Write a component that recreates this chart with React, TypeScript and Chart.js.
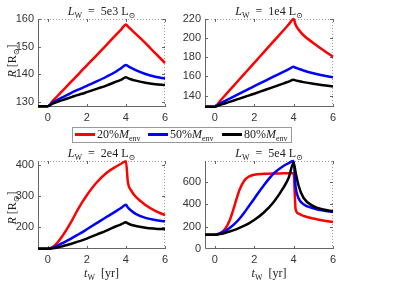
import React, { useEffect, useRef } from 'react';
import { Chart, registerables } from 'chart.js';
Chart.register(...registerables);

// shared time grid (yr)
const T = [-0.5, 0, 0.25, 0.5, 0.75, 1, 1.25, 1.5, 1.75, 2, 2.5, 3, 3.5, 3.75, 4, 4.1, 4.25, 4.5, 5, 5.5, 6];
const X_TICKS = [0, 2, 4, 6];
const LEGEND_PCT = ['20%', '50%', '80%'];

// Panel 1: L_W = 5e3
const P1_LUM = '5e3';
const P1_YTICKS = [130, 140, 150, 160];
const P1_RED = [128.3, 128.3, 130.2, 132, 133.9, 135.7, 137.6, 139.4, 141.3, 143.1, 146.8, 150.5, 154.3, 156.1, 158, 157.3, 156.3, 154.6, 151.2, 147.6, 144];
const P1_BLUE = [128.3, 128.3, 129.6, 130.6, 131.5, 132.4, 133.3, 134.1, 134.9, 135.7, 137.3, 139, 140.9, 142.1, 143.3, 142.9, 142.3, 141.4, 140, 139, 138.4];
const P1_BLACK = [128.3, 128.3, 129.2, 129.9, 130.5, 131.1, 131.7, 132.3, 132.8, 133.4, 134.6, 135.8, 137.2, 137.9, 138.8, 138.5, 138.1, 137.6, 136.8, 136.3, 136];

// Panel 2: L_W = 1e4
const P2_LUM = '1e4';
const P2_YTICKS = [140, 160, 180, 200, 220];
const P2_RED = [128.3, 128.3, 134, 139.8, 145.5, 151.2, 157, 162.7, 168.4, 174.2, 185.6, 197.1, 208.5, 214.3, 220, 214, 209, 203, 195, 187.5, 180.5];
const P2_BLUE = [128.3, 128.3, 131.5, 134.2, 136.8, 139.4, 142, 144.6, 147.2, 149.7, 154.8, 159.9, 165, 167.5, 170, 169, 168, 166.2, 163.3, 161, 159];
const P2_BLACK = [128.3, 128.3, 130.1, 131.7, 133.4, 135.1, 136.8, 138.5, 140.2, 141.9, 145.5, 149.1, 152.7, 154.5, 156.4, 155.8, 155.1, 154, 152.2, 150.7, 149.5];

// Panel 3: L_W = 2e4
const P3_LUM = '2e4';
const P3_YTICKS = [200, 300, 400];
const P3_RED = [128.5, 128.5, 134, 149, 170, 195, 222, 252, 279, 303, 344, 375, 396, 405, 413, 345, 320, 298, 271, 252, 238];
const P3_BLUE = [128.5, 128.5, 132, 139, 147, 155, 164, 173, 182, 192, 212, 232, 251, 261, 272, 263, 254, 242, 229, 222, 218];
const P3_BLACK = [128.5, 128.5, 130, 133, 137, 141, 146, 151, 156, 162, 175, 188, 202, 208, 215, 211, 207, 203, 197, 194, 192];

// Panel 4: L_W = 5e4
const P4_LUM = '5e4';
const P4_YTICKS = [0, 200, 400, 600];
const P4_RED = [128, 128, 140, 175, 255, 390, 530, 615, 652, 667, 675, 678, 679, 680, 681, 360, 318, 298, 274, 256, 242];
const P4_BLUE = [128, 128, 140, 160, 188, 225, 272, 328, 390, 452, 575, 680, 748, 772, 790, 560, 455, 402, 366, 345, 332];
const P4_BLACK = [128, 128, 134, 144, 157, 172, 190, 210, 233, 260, 330, 425, 555, 640, 775, 690, 570, 460, 385, 355, 338];

const COLORS = ['#ff0000', '#0000ff', '#000000'];

type Panel = {
  lum: string; yMin: number; yMax: number; yTicks: number[];
  series: number[][]; area: { l: number; t: number; r: number; b: number };
  xLabel: boolean; yLabel: number | null;
};

const PANELS: Panel[] = [
  { lum: P1_LUM, yMin: 128, yMax: 160, yTicks: P1_YTICKS, series: [P1_RED, P1_BLUE, P1_BLACK], area: { l: 38, t: 19, r: 165, b: 107 }, xLabel: false, yLabel: 61 },
  { lum: P2_LUM, yMin: 128, yMax: 220, yTicks: P2_YTICKS, series: [P2_RED, P2_BLUE, P2_BLACK], area: { l: 205, t: 19, r: 333, b: 107 }, xLabel: false, yLabel: null },
  { lum: P3_LUM, yMin: 128, yMax: 414, yTicks: P3_YTICKS, series: [P3_RED, P3_BLUE, P3_BLACK], area: { l: 38, t: 161, r: 165, b: 249 }, xLabel: true, yLabel: 208 },
  { lum: P4_LUM, yMin: 0, yMax: 790, yTicks: P4_YTICKS, series: [P4_RED, P4_BLUE, P4_BLACK], area: { l: 205, t: 161, r: 333, b: 249 }, xLabel: true, yLabel: null },
];

const W = 400, H = 285, YAXW = 35, XAXH = 18;

const framePlugin = {
  id: 'frame',
  beforeDatasetsDraw(chart: any) {
    const { ctx, chartArea: a } = chart;
    ctx.save();
    ctx.lineWidth = 1;
    ctx.strokeStyle = '#999';
    ctx.setLineDash([1, 2]);
    ctx.beginPath();
    ctx.moveTo(a.left, a.top + 0.5); ctx.lineTo(a.right, a.top + 0.5);
    ctx.moveTo(a.right - 0.5, a.top); ctx.lineTo(a.right - 0.5, a.bottom);
    ctx.stroke();
    ctx.setLineDash([]);
    ctx.strokeStyle = '#666';
    ctx.beginPath();
    ctx.moveTo(a.left + 0.5, a.top); ctx.lineTo(a.left + 0.5, a.bottom - 0.5); ctx.lineTo(a.right, a.bottom - 0.5);
    ctx.stroke();
    const xs = chart.scales.x, ys = chart.scales.y;
    ctx.beginPath();
    xs.ticks.forEach((tk: any) => {
      const px = Math.round(xs.getPixelForValue(tk.value)) + 0.5;
      ctx.moveTo(px, a.bottom); ctx.lineTo(px, a.bottom - 3);
      ctx.moveTo(px, a.top); ctx.lineTo(px, a.top + 3);
    });
    ys.ticks.forEach((tk: any) => {
      const py = Math.round(ys.getPixelForValue(tk.value)) + 0.5;
      if (py < a.top || py > a.bottom) return;
      ctx.moveTo(a.left, py); ctx.lineTo(a.left + 3, py);
      ctx.moveTo(a.right, py); ctx.lineTo(a.right - 3, py);
    });
    ctx.stroke();
    ctx.restore();
  },
};

function PanelChart({ p }: { p: Panel }) {
  const ref = useRef<HTMLCanvasElement>(null);
  useEffect(() => {
    const tickFont = { family: '"Liberation Sans Narrow", "Liberation Sans", Arial, sans-serif', size: 11 };
    const chart = new Chart(ref.current as HTMLCanvasElement, {
      type: 'line',
      data: {
        datasets: p.series.map((s, i) => ({
          data: s.map((v, k) => ({ x: T[k], y: v })),
          borderColor: COLORS[i],
          borderWidth: 2.5,
          pointRadius: 0,
          fill: false,
          cubicInterpolationMode: 'monotone' as const,
          order: 2 - i,
          clip: false as any,
        })),
      },
      options: {
        responsive: false,
        animation: false,
        events: [],
        layout: { padding: { left: p.area.l - YAXW, right: W - p.area.r, top: p.area.t, bottom: H - p.area.b - XAXH } },
        plugins: { legend: { display: false }, tooltip: { enabled: false }, title: { display: false } },
        scales: {
          x: {
            type: 'linear', min: -0.5, max: 6,
            grid: { display: false, drawTicks: false },
            border: { display: false },
            ticks: { font: tickFont, color: '#333', padding: 4, maxRotation: 0 },
            afterBuildTicks: (s: any) => { s.ticks = X_TICKS.map((v) => ({ value: v })); },
            afterFit: (s: any) => { s.height = XAXH; },
          },
          y: {
            type: 'linear', min: p.yMin, max: p.yMax,
            grid: { display: false, drawTicks: false },
            border: { display: false },
            ticks: { font: tickFont, color: '#333', padding: 4 },
            afterBuildTicks: (s: any) => { s.ticks = p.yTicks.map((v) => ({ value: v })); },
            afterFit: (s: any) => { s.width = YAXW; },
          },
        },
      },
      plugins: [framePlugin],
    } as any);
    return () => chart.destroy();
  }, [p]);
  return <canvas ref={ref} width={W} height={H} style={{ position: 'absolute', left: 0, top: 0, width: W, height: H }} />;
}

const serif = '"Liberation Serif", "Times New Roman", "DejaVu Serif", serif';
const subStyle: React.CSSProperties = { fontSize: 8, verticalAlign: '-3px', lineHeight: 0 };
const LEG_LINE_X = [75, 148, 222];

export default function App() {
  return (
    <div style={{ position: 'fixed', left: 0, top: 0, width: W, height: H, background: '#fff', overflow: 'hidden', fontFamily: serif, color: '#222' }}>
      {PANELS.map((p, i) => <PanelChart key={i} p={p} />)}
      {PANELS.map((p, i) => (
        <div key={'t' + i} style={{ position: 'absolute', left: p.area.l, width: p.area.r - p.area.l, top: p.area.t - 15, textAlign: 'center', fontSize: 12, lineHeight: '14px', whiteSpace: 'nowrap' }}>
          <i>L</i><span style={subStyle}>W</span>&nbsp; = &nbsp;{p.lum} L<span style={subStyle}>⊙</span>
        </div>
      ))}
      {PANELS.filter((p) => p.yLabel !== null).map((p, i) => (
        <div key={'y' + i} style={{ position: 'absolute', left: 12, top: p.yLabel as number, transform: 'translate(-50%, -50%) rotate(-90deg)', fontSize: 12, lineHeight: '14px', whiteSpace: 'nowrap' }}>
          <i>R</i> [R<span style={subStyle}>⊙</span>]
        </div>
      ))}
      {PANELS.filter((p) => p.xLabel).map((p, i) => (
        <div key={'x' + i} style={{ position: 'absolute', left: (p.area.l + p.area.r) / 2, top: 273, transform: 'translate(-50%, -50%)', fontSize: 12, lineHeight: '14px', whiteSpace: 'nowrap' }}>
          <i>t</i><span style={subStyle}>W</span>&nbsp; [yr]
        </div>
      ))}
      <div style={{ position: 'absolute', left: 72, top: 127, width: 218, height: 14, border: '1px solid #999', background: '#fff' }} />
      {LEGEND_PCT.map((pct, i) => (
        <React.Fragment key={pct}>
          <div style={{ position: 'absolute', left: LEG_LINE_X[i], top: 133, width: 20, height: 2.5, background: COLORS[i] }} />
          <div style={{ position: 'absolute', left: LEG_LINE_X[i] + 22, top: 127, fontSize: 12, lineHeight: '14px', whiteSpace: 'nowrap' }}>
            {pct}<i>M</i><span style={subStyle}>env</span>
          </div>
        </React.Fragment>
      ))}
    </div>
  );
}
